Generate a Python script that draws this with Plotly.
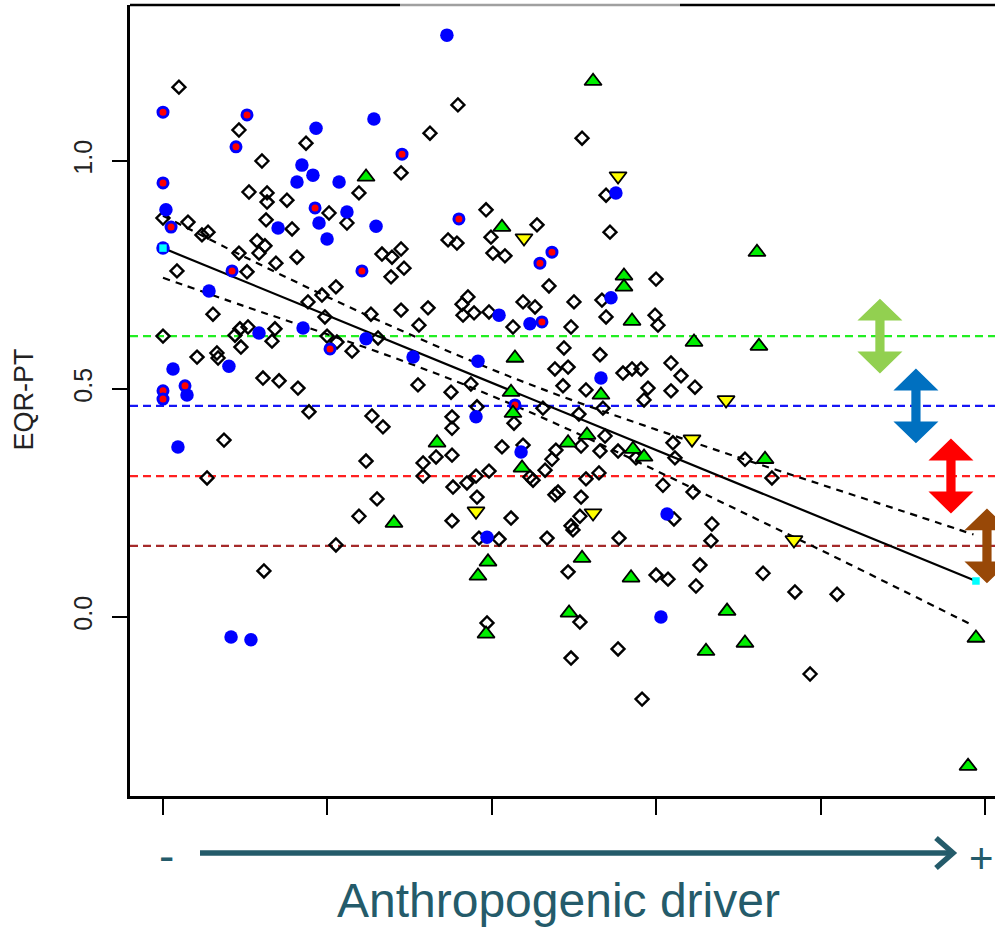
import plotly.graph_objects as go

# ---------------- data (x: anthropogenic driver, 0-5 arbitrary units; y: EQR-PT) ----------------
diamond_x = [0.097, 0.462, 0.870, 0.602, 1.448, 0.523, 0.633, 0.633, 0.754, 1.192,
             1.010, 1.119, 0.000, 0.152, 0.274, 0.237, 0.627, 0.785, 0.572, 0.620,
             0.462, 0.584, 0.687, 0.815, 1.332, 1.393, 1.448, 0.085, 0.511, 1.387,
             1.052, 0.967, 0.882, 1.265, 1.448, 0.304, 0.985, 0.000, 0.468, 0.517,
             0.681, 0.438, 0.663, 0.998, 1.058, 1.308, 0.474, 1.150, 0.207, 0.328,
             0.335, 0.608, 0.706, 0.821, 0.888, 1.271, 1.338, 0.371, 1.235, 0.268,
             1.302, 1.192, 1.052, 0.614,
             1.794, 1.624, 2.549, 2.695, 2.719, 1.965, 2.275, 1.734, 1.788, 1.995,
             2.007, 2.080, 1.466, 2.999, 2.348, 1.855, 1.819, 1.825, 1.892, 1.983,
             1.612, 1.557, 2.190, 2.263, 2.129, 2.500, 2.482, 2.670, 2.695, 2.993,
             3.011, 2.439, 2.658, 1.551, 1.752, 1.873, 2.384, 2.464, 2.433, 2.573,
             2.798, 2.853, 2.908, 3.090, 3.151, 3.236, 2.950, 3.090,
             1.910, 2.135, 2.311, 2.530, 2.676, 2.926, 1.758, 1.758, 1.661, 1.758,
             1.582, 1.582, 2.062, 2.190, 2.232, 2.251, 2.324, 2.366, 2.390, 2.543,
             2.689, 2.658, 2.768, 2.877, 3.102, 3.114, 3.540, 3.704,
             1.764, 1.849, 1.904, 1.983, 1.910, 1.758, 2.117, 2.573, 2.652, 2.403,
             2.384, 2.543, 2.536, 2.482, 2.494, 3.041, 3.224, 3.108, 3.339, 3.333,
             1.922, 2.044, 2.336, 2.774, 2.464, 2.999, 3.072, 3.266, 3.242, 3.650, 3.844,
             2.536, 1.971, 2.768, 2.482, 2.914, 4.100, 3.936]
diamond_y = [1.162, 1.068, 1.039, 1.000, 0.974, 0.932, 0.930, 0.910, 0.914, 0.930,
             0.886, 0.864, 0.875, 0.866, 0.844, 0.838, 0.871, 0.851, 0.825, 0.814,
             0.798, 0.798, 0.776, 0.789, 0.796, 0.789, 0.807, 0.759, 0.757, 0.746,
             0.724, 0.706, 0.691, 0.664, 0.673, 0.664, 0.658, 0.616, 0.632, 0.636,
             0.632, 0.618, 0.605, 0.616, 0.603, 0.612, 0.592, 0.583, 0.570, 0.579,
             0.568, 0.524, 0.518, 0.502, 0.450, 0.441, 0.417, 0.388, 0.342, 0.305,
             0.259, 0.221, 0.158, 0.101,
             1.123, 1.061, 1.050, 0.925, 0.844, 0.893, 0.860, 0.827, 0.820, 0.833,
             0.798, 0.792, 0.765, 0.741, 0.726, 0.702, 0.686, 0.662, 0.667, 0.669,
             0.678, 0.640, 0.691, 0.680, 0.636, 0.691, 0.636, 0.695, 0.658, 0.662,
             0.640, 0.590, 0.575, 0.509, 0.493, 0.511, 0.544, 0.548, 0.507, 0.498,
             0.535, 0.544, 0.544, 0.557, 0.529, 0.504, 0.502, 0.496,
             0.461, 0.425, 0.458, 0.445, 0.458, 0.476, 0.439, 0.414, 0.351, 0.355,
             0.338, 0.309, 0.373, 0.377, 0.307, 0.300, 0.322, 0.346, 0.366, 0.375,
             0.397, 0.364, 0.364, 0.349, 0.382, 0.349, 0.346, 0.305,
             0.285, 0.294, 0.309, 0.320, 0.263, 0.211, 0.217, 0.303, 0.316, 0.274,
             0.268, 0.263, 0.221, 0.200, 0.191, 0.289, 0.274, 0.215, 0.204, 0.167,
             0.173, 0.171, 0.173, 0.173, 0.099, 0.092, 0.083, 0.114, 0.068, 0.096, 0.055,
             -0.011, -0.013, -0.070, -0.090, -0.180, 0.050, -0.125]

blue_x = [1.283, 0.931, 0.845, 0.912, 0.815, 1.071, 0.018, 1.119, 0.949, 0.700,
          1.296, 0.998, 0.280, 0.852, 0.584, 1.235, 0.401, 0.061, 0.146, 0.091,
          0.414, 0.535, 1.727, 2.755, 2.044, 2.232, 2.725, 1.521, 1.916, 2.664,
          1.904, 2.178, 3.066, 1.971, 3.029]
blue_y = [1.092, 1.072, 0.991, 0.969, 0.954, 0.954, 0.893, 0.888, 0.864, 0.853,
          0.857, 0.829, 0.715, 0.634, 0.623, 0.610, 0.550, 0.544, 0.487, 0.373,
          -0.044, -0.050, 1.276, 0.930, 0.662, 0.643, 0.700, 0.570, 0.561, 0.524,
          0.439, 0.362, 0.226, 0.175, 0.000]

redblue_x = [0.000, 0.511, 0.444, 1.454, 0.000, 0.925, 0.049, 0.420, 1.210, 1.016,
             0.000, 0.134, 0.000, 1.800, 2.366, 2.293, 2.305, 2.141]
redblue_y = [1.107, 1.101, 1.031, 1.015, 0.952, 0.897, 0.855, 0.759, 0.759, 0.588,
             0.496, 0.507, 0.478, 0.873, 0.800, 0.776, 0.647, 0.465]

cyanblue_x = [0.000]
cyanblue_y = [0.809]
cyan_x = [0.000, 4.945]
cyan_y = [0.809, 0.079]

green_x = [1.235, 1.405, 2.616, 2.062, 3.613, 2.804, 2.804, 2.853, 3.230, 3.625,
           2.141, 2.117, 2.664, 2.129, 1.667, 2.184, 2.464, 2.579, 2.859, 2.926,
           3.662, 1.977, 1.916, 2.549, 2.847, 2.470, 3.431, 1.965, 3.303, 3.540,
           4.945, 4.897]
green_y = [0.965, 0.206, 1.175, 0.855, 0.800, 0.748, 0.724, 0.649, 0.603, 0.594,
           0.568, 0.493, 0.487, 0.447, 0.382, 0.327, 0.382, 0.399, 0.368, 0.351,
           0.346, 0.121, 0.090, 0.129, 0.086, 0.009, 0.013, -0.037, -0.075, -0.057,
           -0.046, -0.327]

yellow_x = [2.768, 2.196, 3.425, 3.218, 1.904, 2.616, 3.838]
yellow_y = [0.967, 0.831, 0.476, 0.390, 0.232, 0.228, 0.169]

fit_x = [0.000, 4.945]
fit_y = [0.809, 0.079]

band_x = [0.0, 0.5, 1.0, 1.5, 2.0, 2.5, 3.0, 3.5, 4.0, 4.5, 4.93]
band_upper = [0.880, 0.789, 0.702, 0.620, 0.543, 0.474, 0.411, 0.350, 0.291, 0.232, 0.181]
band_lower = [0.744, 0.681, 0.620, 0.556, 0.485, 0.406, 0.321, 0.234, 0.147, 0.058, -0.019]

ref_levels = [0.616, 0.463, 0.309, 0.156]
ref_colors = ["#22EE22", "#1515F5", "#FF2020", "#A52A2A"]

arrow_x = [4.361, 4.580, 4.793, 5.012]
arrow_colors = ["#92D050", "#0070C0", "#FF0000", "#984807"]

y_ticks = [0.0, 0.5, 1.0]
y_tick_labels = ["0.0", "0.5", "1.0"]
x_ticks = [0, 1, 2, 3, 4, 5]

# ---------------- layout constants ----------------
W, H = 995, 929
ML, MR, MT, MB = 130, 0, 5, 133
XR = [-0.2007, 5.0609]
YR = [-0.3925, 1.3421]
PW, PH = W - ML - MR, H - MT - MB
XPX = PW / (XR[1] - XR[0])
YPX = PH / (YR[1] - YR[0])
FONT = "Liberation Sans, Arial, sans-serif"
TEAL = "#245B6A"


def px_to_paper(px, py):
    return (px - ML) / PW, (H - MB - py) / PH


fig = go.Figure()

# regression line and confidence band
fig.add_trace(go.Scatter(x=band_x, y=band_upper, mode="lines",
                         line=dict(color="black", width=2.2, dash="7px,6px", shape="spline")))
fig.add_trace(go.Scatter(x=band_x, y=band_lower, mode="lines",
                         line=dict(color="black", width=2.2, dash="7px,6px", shape="spline")))
fig.add_trace(go.Scatter(x=fit_x, y=fit_y, mode="lines", line=dict(color="black", width=2.2)))

fig.add_trace(go.Scatter(x=diamond_x, y=diamond_y, mode="markers",
                         marker=dict(symbol="diamond-open", size=10, color="black",
                                     line=dict(width=2.4, color="black"))))
fig.add_trace(go.Scatter(x=blue_x, y=blue_y, mode="markers",
                         marker=dict(symbol="circle", size=13.5, color="#0000FF",
                                     line=dict(width=0))))
fig.add_trace(go.Scatter(x=redblue_x, y=redblue_y, mode="markers",
                         marker=dict(symbol="circle", size=10, color="#FF0000",
                                     line=dict(width=3, color="#0000FF"))))
fig.add_trace(go.Scatter(x=cyanblue_x, y=cyanblue_y, mode="markers",
                         marker=dict(symbol="circle", size=13.5, color="#0000FF",
                                     line=dict(width=0))))
fig.add_trace(go.Scatter(x=green_x, y=green_y, mode="markers",
                         marker=dict(symbol="triangle-up", size=15, color="#00EE00",
                                     line=dict(width=1.8, color="black"))))
fig.add_trace(go.Scatter(x=yellow_x, y=yellow_y, mode="markers",
                         marker=dict(symbol="triangle-down", size=15, color="#FFFF00",
                                     line=dict(width=1.8, color="black"))))
fig.add_trace(go.Scatter(x=cyan_x, y=cyan_y, mode="markers",
                         marker=dict(symbol="square", size=7.5, color="#00FFFF",
                                     line=dict(width=0))))

shapes = []
# reference (class boundary) dashed lines
for lv, col in zip(ref_levels, ref_colors):
    shapes.append(dict(type="line", xref="paper", yref="y", x0=0, x1=1, y0=lv, y1=lv,
                       line=dict(color=col, width=2.2, dash="8px,5px"), layer="below"))

# double-headed arrows centred on the class boundaries
half_len = 37.5 / YPX
head_h = 22 / YPX
head_hw = 22.5 / XPX
shaft_hw = 4.6 / XPX
for cx, cy, col in zip(arrow_x, ref_levels, arrow_colors):
    top, bot = cy + half_len, cy - half_len
    pts = [(cx, top), (cx + head_hw, top - head_h), (cx + shaft_hw, top - head_h),
           (cx + shaft_hw, bot + head_h), (cx + head_hw, bot + head_h), (cx, bot),
           (cx - head_hw, bot + head_h), (cx - shaft_hw, bot + head_h),
           (cx - shaft_hw, top - head_h), (cx - head_hw, top - head_h)]
    path = "M " + " L ".join(f"{x:.4f},{y:.4f}" for x, y in pts) + " Z"
    shapes.append(dict(type="path", xref="x", yref="y", path=path,
                       fillcolor=col, line=dict(width=0), layer="above"))

# top border of the box
for a, b, col in [(130, 400, "black"), (400, 680, "#a0a0a0"), (680, 995, "black")]:
    x0, y0 = px_to_paper(a, 5)
    x1, _ = px_to_paper(b, 5)
    shapes.append(dict(type="line", xref="paper", yref="paper", x0=x0, x1=x1, y0=1, y1=1,
                       line=dict(color=col, width=2.5)))

# bottom driver arrow
ax0, ay = px_to_paper(200, 853)
ax1, _ = px_to_paper(950, 853)
shapes.append(dict(type="line", xref="paper", yref="paper", x0=ax0, x1=ax1, y0=ay, y1=ay,
                   line=dict(color=TEAL, width=5.5)))
c1 = px_to_paper(936, 838)
c2 = px_to_paper(953, 853)
c3 = px_to_paper(936, 868)
shapes.append(dict(type="path", xref="paper", yref="paper",
                   path=f"M {c1[0]},{c1[1]} L {c2[0]},{c2[1]} L {c3[0]},{c3[1]}",
                   line=dict(color=TEAL, width=5.5)))

annotations = []
tx, ty = px_to_paper(23.5, 400)
annotations.append(dict(text="EQR-PT", xref="paper", yref="paper", x=tx, y=ty,
                        textangle=-90, showarrow=False, xanchor="center", yanchor="middle",
                        font=dict(family=FONT, size=27, color="#222222")))
mx, my = px_to_paper(166, 856)
annotations.append(dict(text="-", xref="paper", yref="paper", x=mx, y=my, showarrow=False,
                        xanchor="center", yanchor="middle",
                        font=dict(family=FONT, size=46, color=TEAL)))
plx, ply = px_to_paper(981, 858)
annotations.append(dict(text="+", xref="paper", yref="paper", x=plx, y=ply, showarrow=False,
                        xanchor="center", yanchor="middle",
                        font=dict(family=FONT, size=42, color=TEAL)))
lx, ly = px_to_paper(558, 900)
annotations.append(dict(text="Anthropogenic driver", xref="paper", yref="paper", x=lx, y=ly,
                        showarrow=False, xanchor="center", yanchor="middle",
                        font=dict(family=FONT, size=48, color=TEAL)))

fig.update_layout(
    width=W, height=H,
    margin=dict(l=ML, r=MR, t=MT, b=MB, pad=0),
    paper_bgcolor="white", plot_bgcolor="white",
    showlegend=False, hovermode=False,
    shapes=shapes, annotations=annotations,
    font=dict(family=FONT),
    xaxis=dict(range=XR, showgrid=False, zeroline=False, showline=True, linecolor="black",
               linewidth=2.5, ticks="outside", ticklen=16, tickwidth=1.6, tickcolor="black",
               tickvals=x_ticks, showticklabels=False, mirror=False),
    yaxis=dict(range=YR, showgrid=False, zeroline=False, showline=True, linecolor="black",
               linewidth=2.5, ticks="outside", ticklen=15, tickwidth=2, tickcolor="black",
               tickvals=y_ticks, ticktext=y_tick_labels, tickangle=-90, ticklabelstandoff=10,
               tickfont=dict(family=FONT, size=25, color="#222222"), mirror=False),
)

fig.write_html("out.html")
